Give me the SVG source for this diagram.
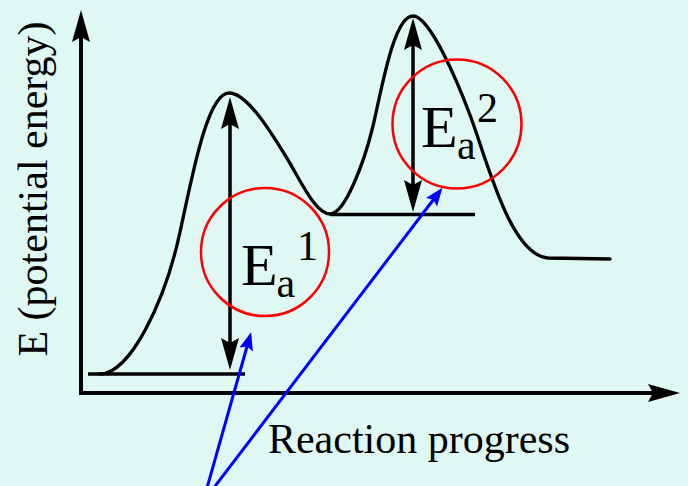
<svg xmlns="http://www.w3.org/2000/svg" width="688" height="486" viewBox="0 0 688 486">
  <style>
    .axis { stroke: #000; stroke-width: 4; fill: none; }
    .curve { stroke: #000; stroke-width: 3.3; fill: none; stroke-linejoin: round; stroke-linecap: round; }
    .level { stroke: #000; stroke-width: 3.5; fill: none; }
    .ea { stroke: #000; stroke-width: 3.5; fill: none; }
    .ring { stroke: #ff0000; stroke-width: 2.5; fill: none; }
    .pointer { stroke: #0000ff; stroke-width: 3; fill: none; }
    .lbl { font-family: 'Liberation Serif', 'Times New Roman', 'DejaVu Serif', serif; fill: #000; }
  </style>
  <defs>
    <marker id="blackHead" viewBox="-30 -12 40 24" markerWidth="40" markerHeight="24" refX="0" refY="0" markerUnits="userSpaceOnUse" orient="auto-start-reverse">
      <path d="M 8,0 L -24,-9 L -19,0 L -24,9 Z" fill="#000"/>
    </marker>
    <marker id="blueHead" viewBox="-20 -10 30 20" markerWidth="30" markerHeight="20" refX="0" refY="0" markerUnits="userSpaceOnUse" orient="auto">
      <path d="M 4,0 L -14,-7 L -11,0 L -14,7 Z" fill="#0000ff"/>
    </marker>
  </defs>
  <rect x="0" y="0" width="688" height="486" fill="#e0f8f4"/>

  <g id="axes">
    <path class="axis" d="M 81,393 L 81,18" marker-end="url(#blackHead)"/>
    <path class="axis" d="M 79,393 L 672,393" marker-end="url(#blackHead)"/>
  </g>

  <g id="y-label">
    <text class="lbl" font-family="Liberation Serif, serif" x="0" y="0" font-size="42" text-anchor="middle" transform="translate(47,189) rotate(-90)">E (potential energy)</text>
  </g>
  <g id="x-label">
    <text class="lbl" font-family="Liberation Serif, serif" x="419" y="453" font-size="42" text-anchor="middle">Reaction progress</text>
  </g>

  <g id="energy-curve">
    <path class="curve" d="M 100,374 C 130,374 165,302 180,232 C 192,178 207,93 229,93 C 248,93 273,136 285,155 C 300,179 315,214 330,214 C 345,214 364,162 372,130 C 381,94 393,16 413,16 C 430,16 458,83 470,115 C 487,160 510,255 548,258 L 610,259"/>
  </g>

  <g id="levels">
    <line class="level" x1="88" y1="374" x2="245" y2="374"/>
    <line class="level" x1="330" y1="214.5" x2="475" y2="214.5"/>
  </g>

  <g id="connectors">
    <path class="ea" d="M 230,105 L 230,362" marker-start="url(#blackHead)" marker-end="url(#blackHead)"/>
    <path class="ea" d="M 413,26 L 413,204" marker-start="url(#blackHead)" marker-end="url(#blackHead)"/>
    <path class="pointer" d="M 203,502 L 250,336" marker-end="url(#blueHead)"/>
    <path class="pointer" d="M 203,502 L 440,191" marker-end="url(#blueHead)"/>
  </g>

  <g id="ea1">
    <circle class="ring" cx="265" cy="252" r="64"/>
    <text class="lbl" font-family="Liberation Serif, serif" x="241" y="285" font-size="60">E</text>
    <text class="lbl" font-family="Liberation Serif, serif" x="276.5" y="297" font-size="42">a</text>
    <text class="lbl" font-family="Liberation Serif, serif" x="297" y="260" font-size="42">1</text>
  </g>

  <g id="ea2">
    <circle class="ring" cx="457" cy="124" r="64.5"/>
    <text class="lbl" font-family="Liberation Serif, serif" x="421" y="147" font-size="60">E</text>
    <text class="lbl" font-family="Liberation Serif, serif" x="457" y="159" font-size="42">a</text>
    <text class="lbl" font-family="Liberation Serif, serif" x="477" y="122" font-size="42">2</text>
  </g>
</svg>
